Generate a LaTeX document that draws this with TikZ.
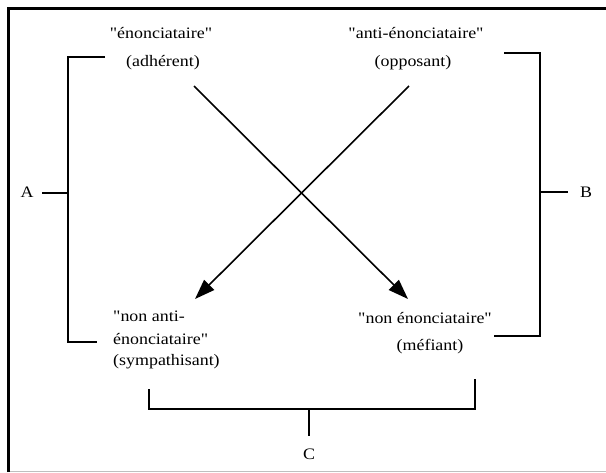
\documentclass[tikz,border=0pt]{standalone}
\usepackage{fontspec}
\usepackage{graphicx}
\setmainfont{Liberation Serif}
\usetikzlibrary{arrows.meta}
\newcommand{\wide}[1]{\scalebox{1.12}[1]{#1}}
\newcommand{\q}{\textquotedbl}
\tikzset{
  lbl/.style={inner sep=0pt, font=\fontsize{16}{19}\selectfont},
  brk/.style={line width=2pt},
  cross/.style={line width=1.6pt, -{Triangle[length=20pt,width=14pt]}},
}
\begin{document}
\begin{tikzpicture}[x=1pt,y=-1pt]
\useasboundingbox (0,0) rectangle (606,472);
% frame
\draw[line width=3pt] (8,472) -- (8,8) -- (606,8);
\draw[black!25, line width=1pt] (10,471) -- (606,471);

% the four positions
\node[lbl] (enon) at (161,33) {\wide{\q énonciataire\q}};
\node[lbl] (adh) at (163,63) {\wide{(adhérent)}};
\node[lbl] (anti) at (416,33) {\wide{\q anti-énonciataire\q}};
\node[lbl] (opp) at (413,63) {\wide{(opposant)}};
\node[lbl,anchor=west] (nonanti) at (113,316) {\wide{\q non anti-}};
\node[lbl,anchor=west] (nonanti2) at (113,339) {\wide{énonciataire\q}};
\node[lbl,anchor=west] (symp) at (113,362) {\wide{(sympathisant)}};
\node[lbl] (nonenon) at (425,318) {\wide{\q non énonciataire\q}};
\node[lbl] (mef) at (430,347) {\wide{(méfiant)}};
\node[lbl] (A) at (27,192) {\wide{A}};
\node[lbl] (B) at (586,192) {\wide{B}};
\node[lbl] (C) at (309,454) {\wide{C}};

% arrows
\coordinate (adhout) at (194,86);
\coordinate (oppout) at (409,86);
\coordinate (mefin) at (408,299);
\coordinate (sympin) at (195,299);
\draw[cross] (adhout) -- (mefin);
\draw[cross] (oppout) -- (sympin);

% brackets
\draw[brk] (105,57) -| (68,342) -- (97,342);
\draw[brk] (68,193) -- (42,193);
\draw[brk] (504,53) -| (540,336) -- (494,336);
\draw[brk] (540,192) -- (568,192);
\draw[brk] (149,389) -- (149,409) -| (475,379);
\draw[brk] (309,409) -- (309,436);
\end{tikzpicture}
\end{document}
